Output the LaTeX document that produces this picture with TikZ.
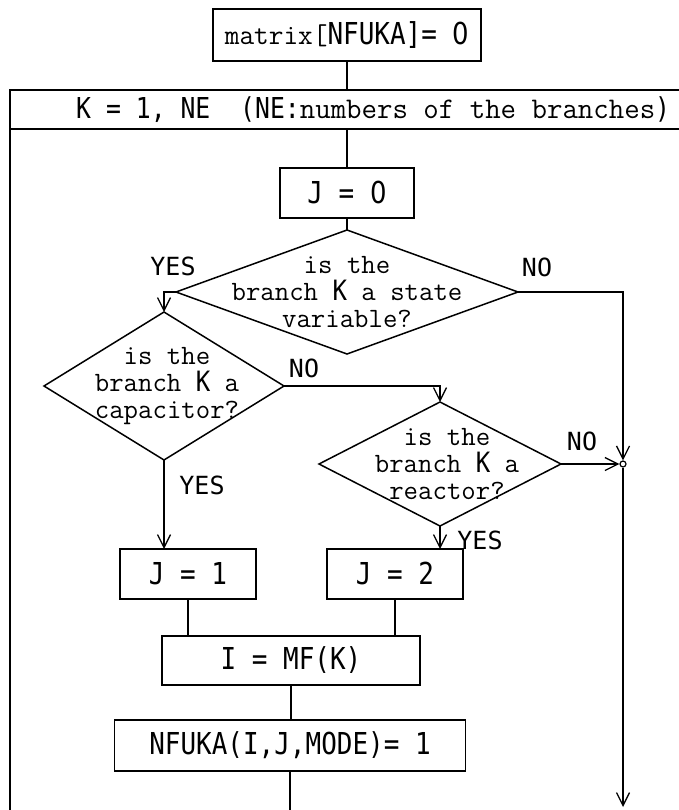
\documentclass[tikz,border=0pt]{standalone}
\usepackage{fontspec}
\newfontfamily\capfont{DejaVu Sans Mono}
\newfontfamily\zerofont{DejaVu Sans}
\usetikzlibrary{positioning, shapes.geometric, arrows.meta}

% narrow upright capitals, and the typewriter lower case
\newcommand{\up}[1]{\scalebox{0.86}[1]{\capfont #1}}
\newcommand{\tw}[1]{{\fontsize{28.5}{27}\selectfont\ttfamily #1}}

\tikzset{
    flow/.style={line width=1.5pt},
    arr/.style={flow,-{Straight Barb[length=13pt,width=13pt,line width=1.3pt]}},
    box/.style={draw,flow,rectangle,inner sep=0pt,outer sep=0pt,
        font=\fontsize{30.2}{32}\selectfont},
    decision/.style={draw,flow,diamond,inner sep=0pt,outer sep=0pt},
    qtext/.style={align=center,inner sep=0pt,
        font=\fontsize{28}{27}\selectfont\ttfamily},
    answer/.style={inner sep=0pt,font=\fontsize{25}{25}\capfont},
}

\begin{document}
\begin{tikzpicture}[x=1pt,y=-1pt]
    \useasboundingbox (0,0) rectangle (679,810);

    % init and loop header
    \node[box,minimum width=268pt,minimum height=52pt] (start) at (347,35)
        {\tw{matrix[}\up{NFUKA]= \zerofont 0}};
    \node[box,minimum width=680pt,minimum height=39pt] (head) at (350,109.5) {};
    \node[anchor=west,inner sep=0pt,font=\fontsize{28.8}{30}\selectfont] (headtxt) at (76,110)
        {\up{K = 1, NE\ \ (NE:}{\fontsize{30}{30}\selectfont\ttfamily numbers of the branches}\up{)}};
    \draw[flow] (head.north west) -- (head.north west |- 0,810);

    \node[box,minimum width=134pt,minimum height=50pt] (j0) at (347,193) {\up{J = \zerofont 0}};

    % the three questions
    \node[decision,minimum width=342pt,minimum height=124pt,
        label={[qtext]center:is the\\branch \up{K} a state\\variable?}] (d1) at (347,292) {};
    \node[decision,minimum width=240pt,minimum height=148pt,
        label={[qtext,xshift=3pt]center:is the\\branch \up{K} a\\capacitor?}] (d2) at (164,386) {};
    \node[decision,minimum width=242pt,minimum height=124pt,
        label={[qtext,xshift=7pt]center:is the\\branch \up{K} a\\reactor?}] (d3) at (440,464) {};

    \node[box,minimum width=136pt,minimum height=50pt] (j1) at (188,574) {\up{J = 1}};
    \node[box,minimum width=136pt,minimum height=50pt] (j2) at (395,574) {\up{J = 2}};
    \node[box,minimum width=258pt,minimum height=49pt] (imf) at (291,660.5) {\up{I = MF(K)}};
    \node[box,minimum width=351pt,minimum height=51pt] (nfuka) at (290,745.5)
        {\up{NFUKA(I,J,MODE)= 1}};

    \node[draw,circle,line width=1.2pt,fill=white,inner sep=0pt,minimum size=6pt] (join) at (623,464) {};
    \coordinate (exit) at (623,807);

    % answers
    \node[answer] (yes1) at (173,266) {YES};
    \node[answer] (no1) at (537,267) {NO};
    \node[answer] (no2) at (304,368) {NO};
    \node[answer] (yes2) at (202,485) {YES};
    \node[answer] (no3) at (582,441) {NO};
    \node[answer] (yes3) at (480,540) {YES};

    % connections
    \draw[flow] (start.south) -- (start.south |- head.north);
    \draw[flow] (j0.north |- head.south) -- (j0.north);
    \draw[flow] (j0.south) -- (d1.north);
    \draw[arr] (d1.west) -| (d2.north);
    \draw[arr] (d2.east) -| (d3.north);
    \draw[arr] (d2.south) -- (d2.south |- j1.north);
    \draw[arr] (d3.south) -- (d3.south |- j2.north);
    \draw[flow] (j1.south) -- (j1.south |- imf.north);
    \draw[flow] (j2.south) -- (j2.south |- imf.north);
    \draw[flow] (imf.south) -- (imf.south |- nfuka.north);
    \draw[flow] (nfuka.south) -- (nfuka.south |- 0,810);
    \draw[arr] (d1.east) -| (join);
    \draw[arr] (d3.east) -- (join);
    \draw[arr] (join) -- (exit);
\end{tikzpicture}
\end{document}
